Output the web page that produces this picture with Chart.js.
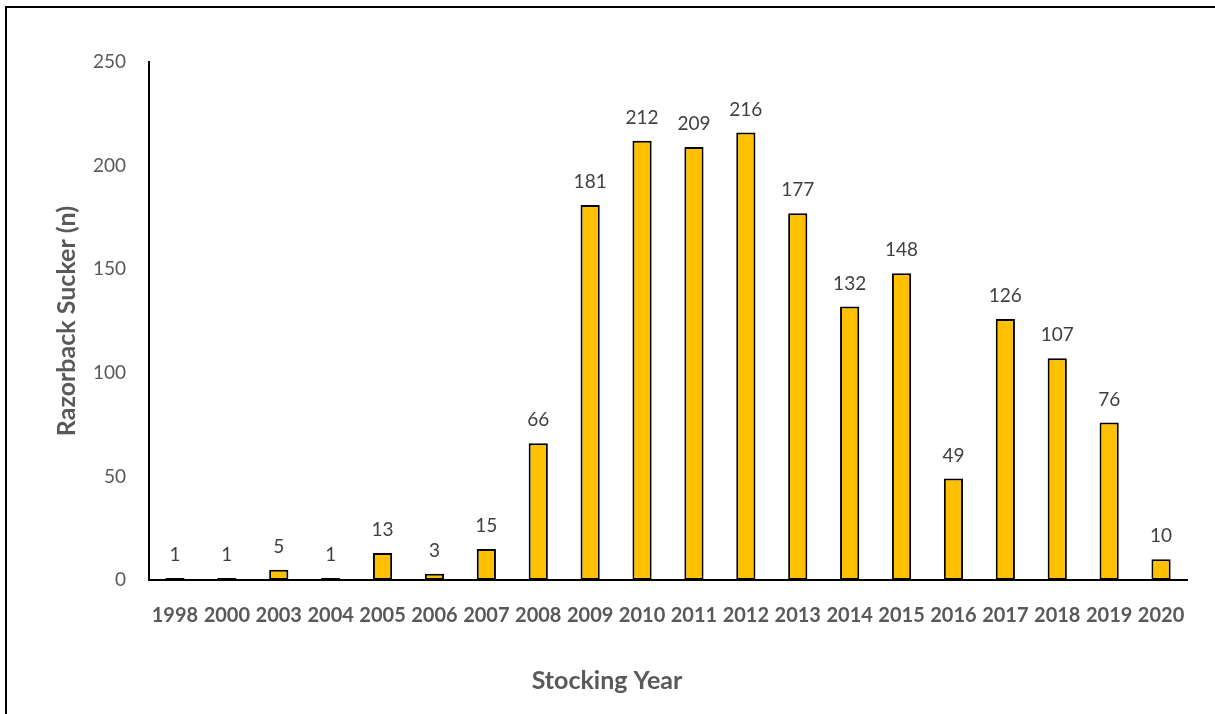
<!DOCTYPE html>
<html>
<head>
<meta charset="utf-8">
<script src="https://cdn.jsdelivr.net/npm/chart.js@4/dist/chart.umd.min.js"></script>
<style>
  html, body { margin: 0; padding: 0; background: #fff; overflow: hidden; }
  #frame { position: absolute; left: 5px; top: 6px; width: 1300px; height: 800px; border: 2px solid #000; }
  #wrap { position: absolute; left: 0; top: 0; width: 1215px; height: 714px; }
</style>
</head>
<body>
<div id="frame"></div>
<div id="wrap"><canvas id="chart" width="1215" height="714"></canvas></div>
<script>
const years = ['1998','2000','2003','2004','2005','2006','2007','2008','2009','2010',
               '2011','2012','2013','2014','2015','2016','2017','2018','2019','2020'];
const counts = [1, 1, 5, 1, 13, 3, 15, 66, 181, 212, 209, 216, 177, 132, 148, 49, 126, 107, 76, 10];
const yTicks = [0, 50, 100, 150, 200, 250];
const xTitle = 'Stocking Year';

const FONT = 'Lato, "Noto Sans", sans-serif';

// value labels above each bar + the x title (sits left of the plot centre in the original)
const barLabels = {
  id: 'barLabels',
  afterDatasetsDraw(chart) {
    const ctx = chart.ctx;
    const meta = chart.getDatasetMeta(0);
    ctx.save();
    ctx.font = '19px ' + FONT;
    ctx.fillStyle = '#404040';
    ctx.textAlign = 'center';
    ctx.textBaseline = 'middle';
    meta.data.forEach((bar, i) => {
      ctx.fillText(String(counts[i]), bar.x, bar.y - 23);
    });
    ctx.font = 'bold 25px ' + FONT;
    ctx.fillStyle = '#595959';
    ctx.fillText(xTitle, 607, 681);
    ctx.restore();
  }
};

new Chart(document.getElementById('chart').getContext('2d'), {
  type: 'bar',
  data: {
    labels: years,
    datasets: [{
      data: counts,
      backgroundColor: '#FFC000',
      borderColor: '#000000',
      borderWidth: 2,
      borderSkipped: false,
      barPercentage: 0.37,
      categoryPercentage: 1.0
    }]
  },
  options: {
    responsive: false,
    animation: false,
    layout: { padding: { top: 62, right: 28, left: 0, bottom: 0 } },
    plugins: { legend: { display: false }, tooltip: { enabled: false } },
    scales: {
      x: {
        grid: { display: false },
        border: { display: true, color: '#000', width: 2 },
        ticks: { color: '#595959', font: { family: FONT, size: 20, weight: 'bold' }, padding: 16, maxRotation: 0, autoSkip: false },
        afterFit: s => { s.height = 134; }
      },
      y: {
        min: 0, max: 250,
        grid: { display: false },
        border: { display: true, color: '#000', width: 2 },
        afterBuildTicks: s => { s.ticks = yTicks.map(v => ({ value: v })); },
        ticks: { color: '#595959', font: { family: FONT, size: 19 }, padding: 15 },
        title: { display: true, text: 'Razorback Sucker (n)', color: '#595959', font: { family: FONT, size: 25, weight: 'bold' }, padding: { top: 52, bottom: 0 } },
        afterFit: s => { s.width = 149; }
      }
    }
  },
  plugins: [barLabels]
});
</script>
</body>
</html>
